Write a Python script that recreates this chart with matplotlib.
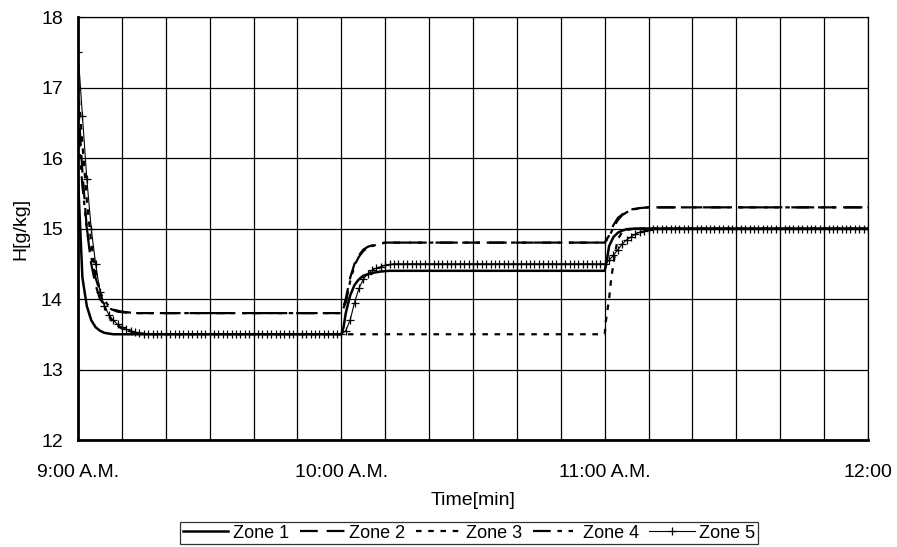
import numpy as np
import matplotlib
matplotlib.use("Agg")
import matplotlib.pyplot as plt

plt.rcParams['font.family'] = ['Liberation Sans', 'DejaVu Sans']

# time in minutes after 9:00 A.M.
tick_pos = [0, 60, 120, 180]
tick_labels = ["9:00 A.M.", "10:00 A.M.", "11:00 A.M.", "12:00"]

# Zone 1 (solid)
z1_t = [0, 1, 2, 3, 4, 5, 6, 8, 10, 60, 60.5, 61, 62, 63, 64, 65, 67, 69, 71,
        120, 120.5, 121, 122, 123, 124, 125, 127, 180]
z1_h = [15.7, 14.3, 13.9, 13.7, 13.6, 13.55, 13.52, 13.5, 13.5, 13.5, 13.6, 13.8, 14.05, 14.2,
        14.28, 14.33, 14.37, 14.39, 14.4, 14.4, 14.55, 14.75, 14.88, 14.94, 14.97, 14.99, 15.0, 15.0]

# Zone 2 (dashed)
z2_t = [0, 1, 2, 3, 4, 5, 6, 7, 9, 12, 60, 61, 62, 63, 64, 65, 66, 68, 70,
        120, 121, 122, 123, 124, 125, 126, 128, 130, 180]
z2_h = [16.8, 15.8, 15.0, 14.5, 14.2, 14.0, 13.92, 13.87, 13.82, 13.8, 13.8, 14.0, 14.3, 14.5,
        14.62, 14.7, 14.74, 14.78, 14.8, 14.8, 14.9, 15.05, 15.15, 15.2, 15.24, 15.27, 15.29, 15.3, 15.3]

# Zone 3 (dotted)
z3_t = [0, 1, 2, 3, 4, 5, 6, 7, 8, 10, 13, 16, 60, 120, 120.3, 121, 121.5, 122, 122.5,
        123, 124, 125, 127, 180]
z3_h = [17.0, 16.2, 15.4, 14.8, 14.4, 14.1, 13.9, 13.76, 13.67, 13.58, 13.52, 13.5, 13.5, 13.5,
        13.7, 14.0, 14.3, 14.5, 14.7, 14.85, 14.95, 14.98, 15.0, 15.0]

# Zone 4 (dash-dot-dot)
z4_t = [0, 1, 2, 3, 4, 5, 6, 7, 8, 10, 13, 60, 61, 62, 63, 64, 65, 66, 68, 70,
        120, 121, 122, 123, 124, 125, 126, 128, 130, 180]
z4_h = [16.4, 15.6, 15.0, 14.6, 14.3, 14.1, 13.98, 13.9, 13.85, 13.82, 13.8, 13.8, 13.95, 14.25,
        14.48, 14.6, 14.68, 14.73, 14.77, 14.8, 14.8, 14.88, 15.02, 15.12, 15.19, 15.23, 15.26,
        15.29, 15.3, 15.3]

# Zone 5 (+ markers, one point per minute)
z5_h = ([17.5, 16.6, 15.7, 15.0, 14.5, 14.1, 13.9, 13.78, 13.7, 13.64, 13.6, 13.57, 13.55,
         13.53, 13.52, 13.51]
        + [13.5] * 45
        + [13.55, 13.7, 13.95, 14.15, 14.28, 14.36, 14.41, 14.44, 14.46, 14.48, 14.49, 14.5]
        + [14.5] * 48
        + [14.55, 14.62, 14.7, 14.78, 14.84, 14.88, 14.92, 14.95, 14.97, 14.98, 14.99, 15.0]
        + [15.0] * 48)
z5_t = list(range(len(z5_h)))

fig = plt.figure(figsize=(8.97, 5.47), dpi=100)
ax = fig.add_axes([0.087, 0.1956, 0.8807, 0.7733])

ax.plot(z1_t, z1_h, color="black", lw=1.8, label="Zone 1")
ax.plot(z2_t, z2_h, color="black", lw=1.6, dashes=(8, 4), label="Zone 2")
ax.plot(z3_t, z3_h, color="black", lw=1.6, dashes=(2.5, 3), label="Zone 3")
ax.plot(z4_t, z4_h, color="black", lw=1.6, dashes=(8, 3, 2, 3, 2, 3), label="Zone 4")
ax.plot(z5_t, z5_h, color="black", lw=0.8, marker="+", ms=6, mew=0.9, label="Zone 5")

ax.set_xlim(0, 180)
ax.set_ylim(12, 18)
ax.set_xticks(tick_pos)
ax.set_xticklabels(tick_labels)
ax.set_xticks(np.arange(0, 181, 10), minor=True)
ax.set_yticks(np.arange(12, 19, 1))
ax.grid(True, which="both", color="black", lw=0.9)
ax.tick_params(axis="both", which="both", direction="in", length=3, labelsize=14, colors="black")
ax.tick_params(axis="x", pad=17)
ax.tick_params(axis="y", pad=11)

for side in ["left", "bottom"]:
    ax.spines[side].set_linewidth(2.0)
for side in ["top", "right"]:
    ax.spines[side].set_linewidth(0.9)

ax.set_xlabel("Time[min]", fontsize=14, labelpad=8)
ax.set_ylabel("H[g/kg]", fontsize=14, labelpad=8)

leg = fig.legend(loc="upper center", bbox_to_anchor=(0.523, 0.0625), ncol=5, fontsize=13,
                 frameon=True, fancybox=False, edgecolor="black", handlelength=2.5,
                 handletextpad=0.25, columnspacing=0.6, borderpad=0.15)
leg.get_frame().set_linewidth(0.9)

fig.savefig("out.png", dpi=100)
